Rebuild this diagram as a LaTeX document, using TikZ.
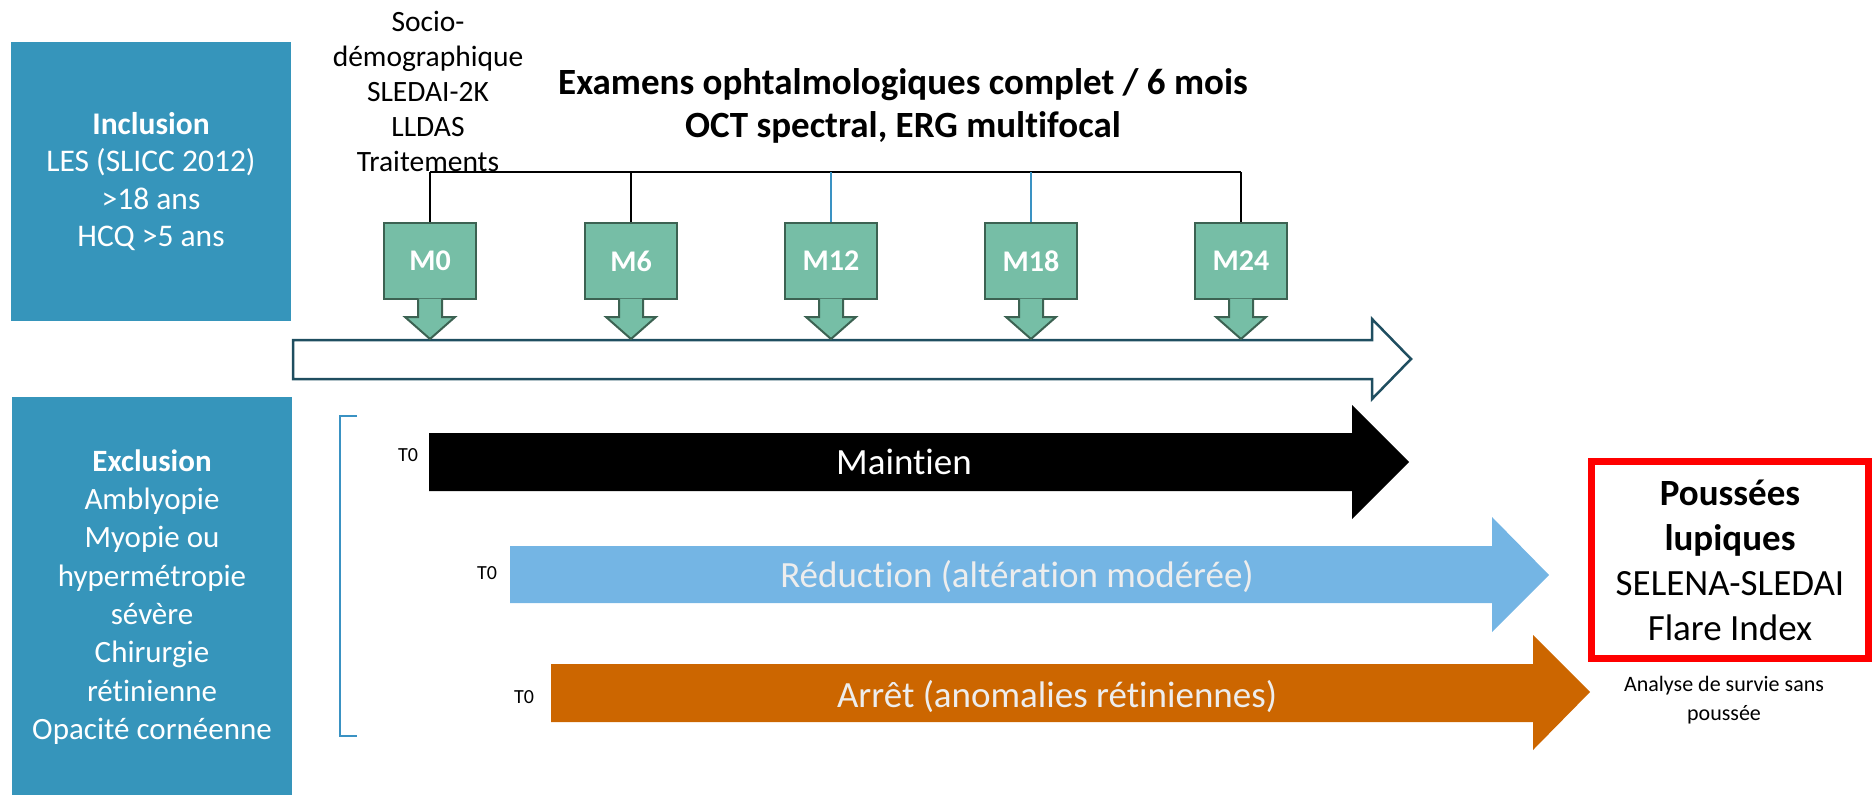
\documentclass[tikz,border=0pt]{standalone}
\usepackage{fontspec}
\setmainfont{Carlito}[Ligatures=NoCommon]
\usepackage{xcolor}
\usepackage{tikz}
\usetikzlibrary{arrows}
\usetikzlibrary{arrows.meta}

\definecolor{bleuboite}{RGB}{54,149,187}
\definecolor{vertvisite}{RGB}{118,190,166}
\definecolor{vertbord}{RGB}{60,98,82}
\definecolor{ligneaxe}{RGB}{31,78,96}
\definecolor{bleutrait}{RGB}{58,146,195}
\definecolor{bleufleche}{RGB}{116,181,228}
\definecolor{orangefleche}{RGB}{204,102,0}

\tikzset{
    boite/.style={fill=bleuboite, text=white, inner sep=0pt, align=center},
    visite/.style={fill=vertvisite, draw=vertbord, line width=2pt, minimum width=92pt, minimum height=76pt, inner sep=0pt, text=white, font=\fontsize{30}{36}\selectfont\bfseries},
    fleche/.style={fill=vertvisite, draw=vertbord, line width=2pt},
    etiquette/.style={text=white, font=\fontsize{37}{44}\selectfont},
    petit/.style={font=\fontsize{20}{24}\selectfont},
}

\begin{document}
\begin{tikzpicture}[x=1pt, y=-1pt]
    \useasboundingbox (0,0) rectangle (1874,795);

    \node[boite, minimum width=280pt, minimum height=279pt, font=\fontsize{31.5}{37.5}\selectfont] (Inc) at (151,181.5) {\textbf{Inclusion}\\LES (SLICC 2012)\\>18 ans\\HCQ >5 ans};
    \node[boite, minimum width=280pt, minimum height=400pt, font=\fontsize{31}{38.3}\selectfont] (Exc) at (152,597) {\textbf{Exclusion}\\Amblyopie\\Myopie ou\\hypermétropie\\sévère\\Chirurgie\\rétinienne\\Opacité cornéenne};

    \node[align=center, font=\fontsize{29.5}{35}\selectfont] (Socio) at (428,91) {Socio-\\démographique\\SLEDAI-2K\\LLDAS\\Traitements};
    \node[align=center, font=\fontsize{37}{43}\selectfont\bfseries] (Exam) at (903,106) {Examens ophtalmologiques complet / 6 mois\\OCT spectral, ERG multifocal};

    \draw[ligneaxe, line width=2.5pt] (293,340) -- (1372,340) -- (1372,319) -- (1411,359) -- (1372,399) -- (1372,379) -- (293,379) -- cycle;

    \node[visite] (M0) at (430,261) {M0};
    \node[visite] (M6) at (631,261) {M6};
    \node[visite] (M12) at (831,261) {M12};
    \node[visite] (M18) at (1031,261) {M18};
    \node[visite] (M24) at (1241,261) {M24};
    \draw[fleche] ([xshift=-12pt,yshift=1.5pt]M0.south) -- ++(0,18.5) -- ++(-13,0) -- ++(25,22) -- ++(25,-22) -- ++(-13,0) -- ++(0,-18.5);
    \draw[fleche] ([xshift=-12pt,yshift=1.5pt]M6.south) -- ++(0,18.5) -- ++(-13,0) -- ++(25,22) -- ++(25,-22) -- ++(-13,0) -- ++(0,-18.5);
    \draw[fleche] ([xshift=-12pt,yshift=1.5pt]M12.south) -- ++(0,18.5) -- ++(-13,0) -- ++(25,22) -- ++(25,-22) -- ++(-13,0) -- ++(0,-18.5);
    \draw[fleche] ([xshift=-12pt,yshift=1.5pt]M18.south) -- ++(0,18.5) -- ++(-13,0) -- ++(25,22) -- ++(25,-22) -- ++(-13,0) -- ++(0,-18.5);
    \draw[fleche] ([xshift=-12pt,yshift=1.5pt]M24.south) -- ++(0,18.5) -- ++(-13,0) -- ++(25,22) -- ++(25,-22) -- ++(-13,0) -- ++(0,-18.5);

    \coordinate (H0) at (430,172);
    \coordinate (H24) at (1241,172);
    \draw[line width=2pt] (H0) -- (H24);
    \draw[line width=1.3pt] (M0.north) -- (H0);
    \draw[line width=1.3pt] (M6.north) -- (M6.north |- H0);
    \draw[bleutrait, line width=1.3pt] (M12.north) -- (M12.north |- H0);
    \draw[bleutrait, line width=1.3pt] (M18.north) -- (M18.north |- H0);
    \draw[line width=1.3pt] (M24.north) -- (H24);

    \draw[bleutrait, line width=2pt] (357,416) -- (340,416) -- (340,736) -- (357,736);

    \fill[black] (429,433) -- (1352,433) -- (1352,405) -- (1409,462) -- (1352,519) -- (1352,491) -- (429,491) -- cycle;
    \node[etiquette] (Maint) at (904,462) {Maintien};
    \node[petit] (T1) at (408,455) {T0};

    \fill[bleufleche] (510,546) -- (1492,546) -- (1492,517) -- (1549,575) -- (1492,632) -- (1492,603) -- (510,603) -- cycle;
    \node[etiquette, text=white!93!black] (Reduc) at (1017,577) {Réduction (altération modérée)};
    \node[petit] (T2) at (487,573) {T0};

    \fill[orangefleche] (551,664) -- (1533,664) -- (1533,635) -- (1590,692) -- (1533,750) -- (1533,722) -- (551,722) -- cycle;
    \node[etiquette, text=white!93!black] (Arret) at (1057,697) {Arrêt (anomalies rétiniennes)};
    \node[petit] (T3) at (524,697) {T0};

    \node[draw=red, line width=7pt, minimum width=277pt, minimum height=197pt, align=center, font=\fontsize{37}{45}\selectfont] (Flare) at (1730,560) {\textbf{Poussées}\\\textbf{lupiques}\\SELENA-SLEDAI\\Flare Index};
    \node[align=center, font=\fontsize{22}{29}\selectfont] (Survie) at (1724,700.5) {Analyse de survie sans\\poussée};
\end{tikzpicture}
\end{document}
